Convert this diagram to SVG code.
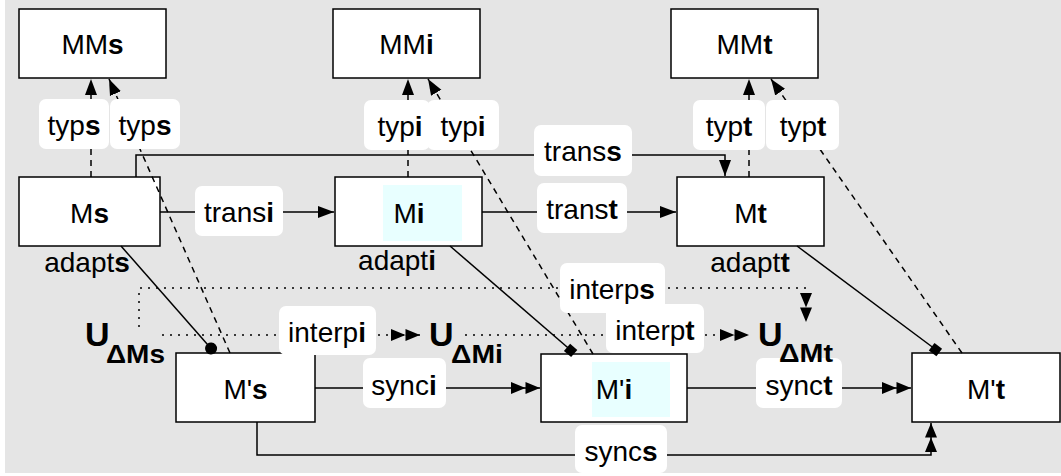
<svg xmlns="http://www.w3.org/2000/svg" width="1061" height="476" viewBox="0 0 1061 476">
<style>
.bg{fill:#e5e5e5}
.node{fill:#fff;stroke:#000;stroke-width:1.5}
.hl{fill:#e8ffff}
.lbl{fill:#fff}
text{font-family:"Liberation Sans",Arial,Helvetica,sans-serif;font-size:28px;fill:#000}
.c{text-anchor:middle}
.b{font-weight:bold}
.U{font-weight:bold;font-size:34px}
.sub{font-weight:bold;font-size:26px}
.solid{fill:none;stroke:#000;stroke-width:1.5}
.dash{fill:none;stroke:#000;stroke-width:1.5;stroke-dasharray:6 5}
.dot{fill:none;stroke:#000;stroke-width:1.5;stroke-dasharray:2 6}
.mk{fill:#000;stroke:none}
</style>
<defs>
<marker id="arr" markerUnits="userSpaceOnUse" markerWidth="17" markerHeight="14" refX="16" refY="7" orient="auto"><path class="mk" d="M0,1 L16,7 L0,13 z"/></marker>
<marker id="dbl" markerUnits="userSpaceOnUse" markerWidth="30" markerHeight="14" refX="29" refY="7" orient="auto"><path class="mk" d="M0,1 L14.5,7 L0,13 z M14.5,1 L29,7 L14.5,13 z"/></marker>
<marker id="dotm" markerUnits="userSpaceOnUse" markerWidth="14" markerHeight="14" refX="13" refY="7" orient="auto"><circle class="mk" cx="7" cy="7" r="6"/></marker>
<marker id="dia" markerUnits="userSpaceOnUse" markerWidth="12" markerHeight="12" refX="10" refY="5.5" orient="auto"><rect class="mk" x="1" y="1" width="9.5" height="9.5"/></marker>
</defs>
<rect class="bg" x="5" y="0" width="1056" height="473"/>

<g id="MMs"><rect class="node" x="19" y="9" width="147" height="69"/><text class="c" x="92.5" y="54">MM<tspan class="b">s</tspan></text></g>
<g id="MMi"><rect class="node" x="333" y="9" width="147" height="69"/><text class="c" x="406.5" y="54">MM<tspan class="b">i</tspan></text></g>
<g id="MMt"><rect class="node" x="671" y="9" width="147" height="69"/><text class="c" x="744.5" y="54">MM<tspan class="b">t</tspan></text></g>
<g id="Ms"><rect class="node" x="19" y="177" width="141" height="69"/><text class="c" x="89.5" y="222.5">M<tspan class="b">s</tspan></text></g>
<g id="Mi"><rect class="node" x="335" y="177" width="147" height="69"/><rect class="hl" x="383" y="185" width="79" height="56"/><text class="c" x="409" y="222.5">M<tspan class="b">i</tspan></text></g>
<g id="Mt"><rect class="node" x="677" y="177" width="147" height="69"/><text class="c" x="750.5" y="222.5">M<tspan class="b">t</tspan></text></g>
<g id="Mps"><rect class="node" x="176" y="353" width="139" height="69"/><text class="c" x="245.5" y="398.5">M'<tspan class="b">s</tspan></text></g>
<g id="Mpi"><rect class="node" x="541" y="354" width="146" height="68"/><rect class="hl" x="592" y="362" width="78" height="55"/><text class="c" x="614" y="399">M'<tspan class="b">i</tspan></text></g>
<g id="Mpt"><rect class="node" x="912" y="353" width="148" height="69"/><text class="c" x="986" y="398.5">M'<tspan class="b">t</tspan></text></g>

<g id="connectors">
  <path class="dash" d="M91,177 V79" marker-end="url(#arr)"/>
  <path class="dash" d="M230,353 L109,79" marker-end="url(#arr)"/>
  <path class="dash" d="M408,177 V79" marker-end="url(#arr)"/>
  <path class="dash" d="M593,354 L428,79" marker-end="url(#arr)"/>
  <path class="dash" d="M749,177 V79" marker-end="url(#arr)"/>
  <path class="dash" d="M962,353 L771,79" marker-end="url(#arr)"/>
  <path class="solid" d="M136,177 V155 H725 V176" marker-end="url(#arr)"/>
  <path class="solid" d="M160,212 H334" marker-end="url(#arr)"/>
  <path class="solid" d="M482,212 H676" marker-end="url(#arr)"/>
  <path class="solid" d="M121,246 L215,353" marker-end="url(#dotm)"/>
  <path class="solid" d="M450,246 L574,353" marker-end="url(#dia)"/>
  <path class="solid" d="M797,246 L939,352" marker-end="url(#dia)"/>
  <path class="dot" d="M139,327 V288 H806 V322" marker-end="url(#dbl)"/>
  <path class="dot" d="M162,335 H420" marker-end="url(#dbl)"/>
  <path class="dot" d="M465,335 H749" marker-end="url(#dbl)"/>
  <path class="solid" d="M315,388 H540" marker-end="url(#dbl)"/>
  <path class="solid" d="M687,388 H911" marker-end="url(#dbl)"/>
  <path class="solid" d="M257,422 V455 H931 V423" marker-end="url(#dbl)"/>
</g>

<g id="labels">
  <rect class="lbl" x="39" y="99" width="70" height="50" rx="7"/>
  <text class="c" x="74" y="135">typ<tspan class="b">s</tspan></text>
  <rect class="lbl" x="110" y="99" width="70" height="50" rx="7"/>
  <text class="c" x="145" y="135">typ<tspan class="b">s</tspan></text>
  <rect class="lbl" x="364" y="100" width="66" height="50" rx="7"/>
  <text class="c" x="400" y="136">typ<tspan class="b">i</tspan></text>
  <rect class="lbl" x="427" y="100" width="72" height="50" rx="7"/>
  <text class="c" x="463" y="136">typ<tspan class="b">i</tspan></text>
  <rect class="lbl" x="693" y="100" width="72" height="50" rx="7"/>
  <text class="c" x="729" y="136">typ<tspan class="b">t</tspan></text>
  <rect class="lbl" x="766" y="100" width="73" height="50" rx="7"/>
  <text class="c" x="803" y="136">typ<tspan class="b">t</tspan></text>

  <rect class="lbl" x="534" y="125" width="98" height="51" rx="7"/>
  <text class="c" x="583" y="161">trans<tspan class="b">s</tspan></text>
  <rect class="lbl" x="195" y="186" width="88" height="50" rx="7"/>
  <text class="c" x="239" y="222">trans<tspan class="b">i</tspan></text>
  <rect class="lbl" x="537" y="183" width="90" height="50" rx="7"/>
  <text class="c" x="582" y="219">trans<tspan class="b">t</tspan></text>

  <text class="c" x="87" y="272">adapt<tspan class="b">s</tspan></text>
  <text class="c" x="397" y="270">adapt<tspan class="b">i</tspan></text>
  <text class="c" x="750" y="272">adapt<tspan class="b">t</tspan></text>

  <rect class="lbl" x="560" y="263" width="105" height="50" rx="7"/>
  <text class="c" x="612" y="299">interp<tspan class="b">s</tspan></text>
  <rect class="lbl" x="279" y="306" width="97" height="49" rx="7"/>
  <text class="c" x="327" y="342">interp<tspan class="b">i</tspan></text>
  <rect class="lbl" x="606" y="304" width="98" height="49" rx="7"/>
  <text class="c" x="655" y="340">interp<tspan class="b">t</tspan></text>

  <rect class="lbl" x="363" y="358" width="83" height="50" rx="7"/>
  <text class="c" x="404" y="395">sync<tspan class="b">i</tspan></text>
  <rect class="lbl" x="756" y="358" width="86" height="50" rx="7"/>
  <text class="c" x="799" y="395">sync<tspan class="b">t</tspan></text>
  <rect class="lbl" x="575" y="425" width="92" height="48" rx="7"/>
  <text class="c" x="621" y="461">sync<tspan class="b">s</tspan></text>

  <text class="U" x="85" y="346">U</text><text class="sub" x="106" y="363" textLength="59" lengthAdjust="spacingAndGlyphs">ΔMs</text>
  <text class="U" x="429" y="346">U</text><text class="sub" x="451" y="363" textLength="52" lengthAdjust="spacingAndGlyphs">ΔMi</text>
  <text class="U" x="758" y="346">U</text><text class="sub" x="779" y="362" textLength="54" lengthAdjust="spacingAndGlyphs">ΔMt</text>
</g>
</svg>
